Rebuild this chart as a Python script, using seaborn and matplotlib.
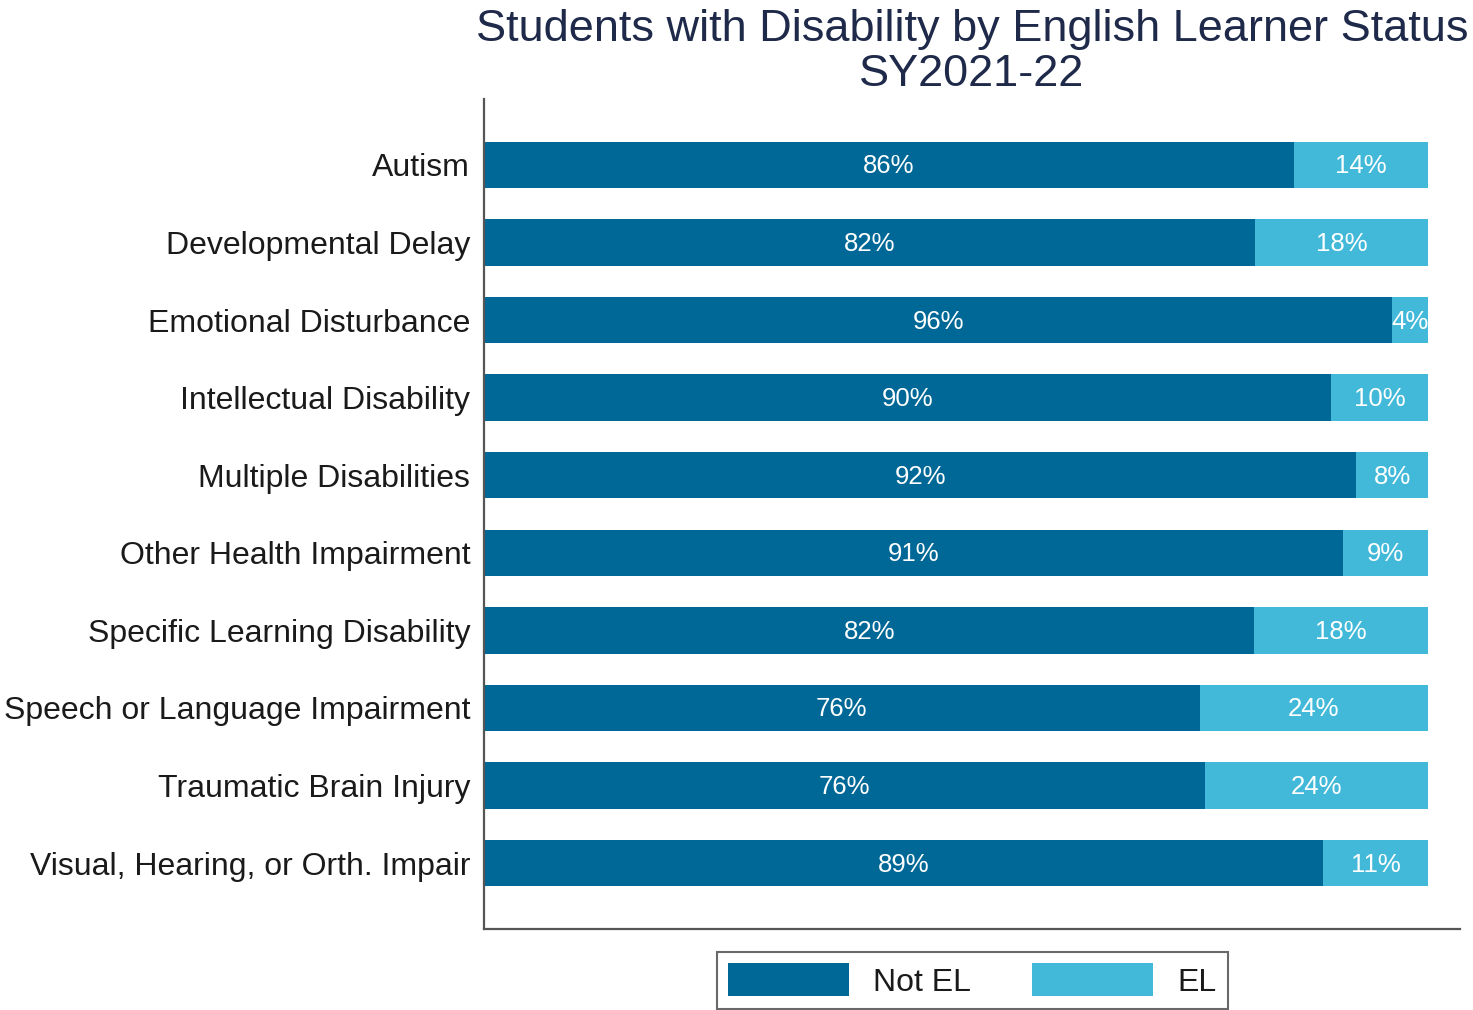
import matplotlib
matplotlib.use("Agg")
import matplotlib.pyplot as plt
import seaborn as sns
import pandas as pd
from matplotlib.patches import Patch

# Disability categories and the share of students in each by EL status (%)
categories = [
    "Autism",
    "Developmental Delay",
    "Emotional Disturbance",
    "Intellectual Disability",
    "Multiple Disabilities",
    "Other Health Impairment",
    "Specific Learning Disability",
    "Speech or Language Impairment",
    "Traumatic Brain Injury",
    "Visual, Hearing, or Orth. Impair",
]
not_el = [85.8, 81.7, 96.2, 89.7, 92.4, 91.0, 81.6, 75.8, 76.4, 88.9]
el = [14.2, 18.3, 3.8, 10.3, 7.6, 9.0, 18.4, 24.2, 23.6, 11.1]

series_names = ["Not EL", "EL"]
title_text = "Students with Disability by English Learner Status\nSY2021-22"

DARK = "#006896"
LIGHT = "#42B9D9"

sns.set_theme(style="white")
plt.rcParams["font.family"] = ["Liberation Sans", "DejaVu Sans"]

df = pd.DataFrame({"category": categories, "Not EL": not_el, "EL": el})
df["total"] = df["Not EL"] + df["EL"]

fig = plt.figure(figsize=(14.73, 10.10), dpi=100)
ax = fig.add_axes([0.3286, 0.0802, 0.6626, 0.8218])

# Stacked bars: full-length EL layer underneath, Not EL drawn over it
sns.barplot(data=df, x="total", y="category", orient="h", color=LIGHT,
            width=0.6, saturation=1, linewidth=0, ax=ax)
sns.barplot(data=df, x="Not EL", y="category", orient="h", color=DARK,
            width=0.6, saturation=1, linewidth=0, ax=ax)

for i, (a, b) in enumerate(zip(not_el, el)):
    ax.text(a / 2, i + 0.02, f"{a:.0f}%", ha="center", va="center",
            color="white", fontsize=18.5)
    ax.text(a + b / 2, i + 0.02, f"{b:.0f}%", ha="center", va="center",
            color="white", fontsize=18.5)

ax.set_xlim(0, 103.4)
ax.set_ylim(len(categories) - 1 + 0.85, -0.85)
ax.set_xlabel("")
ax.set_ylabel("")
ax.set_xticks([])
ax.tick_params(axis="y", length=0, pad=10, labelsize=23, labelcolor="#1a1a1a")

for side in ["top", "right"]:
    ax.spines[side].set_visible(False)
for side in ["left", "bottom"]:
    ax.spines[side].set_color("#555555")
    ax.spines[side].set_linewidth(1.6)

ax.set_title(title_text, fontsize=32.5, color="#1F2A4A", pad=9,
             linespacing=1.13)

handles = [Patch(facecolor=DARK, edgecolor="none"),
           Patch(facecolor=LIGHT, edgecolor="none")]
leg = ax.legend(handles, series_names, loc="upper center",
                bbox_to_anchor=(0.5, -0.028), ncol=2, frameon=True,
                fancybox=False, fontsize=23, handlelength=3.8,
                handleheight=1.2, handletextpad=0.75, columnspacing=1.9,
                borderpad=0.35, borderaxespad=0)
leg.get_frame().set_edgecolor("#444444")
leg.get_frame().set_linewidth(1.5)
for t in leg.get_texts():
    t.set_color("#1a1a1a")

fig.savefig("out.png", dpi=100, facecolor="white")
